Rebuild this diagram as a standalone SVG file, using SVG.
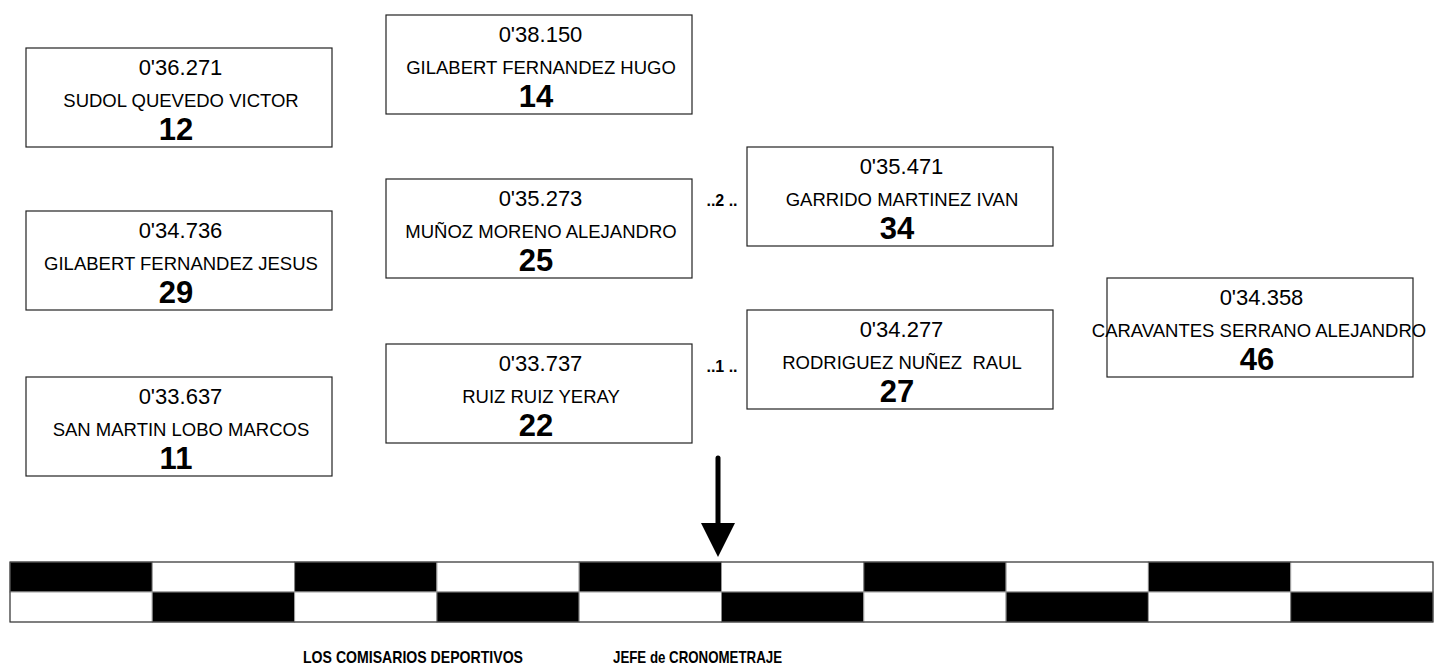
<svg xmlns="http://www.w3.org/2000/svg" width="1439" height="666" viewBox="0 0 1439 666">
<style>
.box{fill:#fff;stroke:#222;stroke-width:1.2}
.t{font-family:"Liberation Sans",Arial,sans-serif;text-anchor:middle;fill:#000;white-space:pre}
.time{font-size:22px}
.name{font-size:18.5px}
.num{font-size:31px;font-weight:bold}
.lbl{font-family:"Liberation Sans",Arial,sans-serif;font-size:16px;font-weight:bold;text-anchor:middle}
.foot{font-family:"Liberation Sans",Arial,sans-serif;font-size:17px;font-weight:bold}
.blk{fill:#000;stroke:#888;stroke-width:1}
.wht{fill:#fff;stroke:#999;stroke-width:1}
</style>
<rect width="1439" height="666" fill="#fff"/>
<defs>
<g id="card"><rect class="box" x="0" y="0" width="306" height="99"/></g>
</defs>
<g id="n12" transform="translate(26,48)"><use href="#card"/><text class="t time" x="154.5" y="27">0'36.271</text><text class="t name" x="155" y="59">SUDOL QUEVEDO VICTOR</text><text class="t num" x="150" y="92">12</text></g>
<g id="n29" transform="translate(26,211)"><use href="#card"/><text class="t time" x="154.5" y="27">0'34.736</text><text class="t name" x="155" y="59">GILABERT FERNANDEZ JESUS</text><text class="t num" x="150" y="92">29</text></g>
<g id="n11" transform="translate(26,377)"><use href="#card"/><text class="t time" x="154.5" y="27">0'33.637</text><text class="t name" x="155" y="59">SAN MARTIN LOBO MARCOS</text><text class="t num" x="150" y="92">11</text></g>
<g id="n14" transform="translate(386,15)"><use href="#card"/><text class="t time" x="154.5" y="27">0'38.150</text><text class="t name" x="155" y="59">GILABERT FERNANDEZ HUGO</text><text class="t num" x="150" y="92">14</text></g>
<g id="n25" transform="translate(386,179)"><use href="#card"/><text class="t time" x="154.5" y="27">0'35.273</text><text class="t name" x="155" y="59">MUÑOZ MORENO ALEJANDRO</text><text class="t num" x="150" y="92">25</text></g>
<g id="n22" transform="translate(386,344)"><use href="#card"/><text class="t time" x="154.5" y="27">0'33.737</text><text class="t name" x="155" y="59">RUIZ RUIZ YERAY</text><text class="t num" x="150" y="92">22</text></g>
<g id="n34" transform="translate(747,147)"><use href="#card"/><text class="t time" x="154.5" y="27">0'35.471</text><text class="t name" x="155" y="59">GARRIDO MARTINEZ IVAN</text><text class="t num" x="150" y="92">34</text></g>
<g id="n27" transform="translate(747,310)"><use href="#card"/><text class="t time" x="154.5" y="27">0'34.277</text><text class="t name" x="155" y="59">RODRIGUEZ NUÑEZ  RAUL</text><text class="t num" x="150" y="92">27</text></g>
<g id="n46" transform="translate(1107,278)"><use href="#card"/><text class="t time" x="154.5" y="27">0'34.358</text><text class="t name" x="152" y="59">CARAVANTES SERRANO ALEJANDRO</text><text class="t num" x="150" y="92">46</text></g>
<g id="labels">
<text class="lbl" x="722" y="206">..2 ..</text>
<text class="lbl" x="722" y="372">..1 ..</text>
</g>
<g id="connectors">
<line x1="718" y1="458" x2="718" y2="526" stroke="#000" stroke-width="5" stroke-linecap="round"/>
<polygon points="701,523 735,523 718,557" fill="#000"/>
</g>
<g id="finish-line">
<rect class="blk" x="10" y="562" width="142.3" height="30"/>
<rect class="wht" x="152.3" y="562" width="142.3" height="30"/>
<rect class="blk" x="294.6" y="562" width="142.3" height="30"/>
<rect class="wht" x="436.9" y="562" width="142.3" height="30"/>
<rect class="blk" x="579.2" y="562" width="142.3" height="30"/>
<rect class="wht" x="721.5" y="562" width="142.3" height="30"/>
<rect class="blk" x="863.8" y="562" width="142.3" height="30"/>
<rect class="wht" x="1006.1" y="562" width="142.3" height="30"/>
<rect class="blk" x="1148.4" y="562" width="142.3" height="30"/>
<rect class="wht" x="1290.7" y="562" width="142.3" height="30"/>
<rect class="wht" x="10" y="592" width="142.3" height="30"/>
<rect class="blk" x="152.3" y="592" width="142.3" height="30"/>
<rect class="wht" x="294.6" y="592" width="142.3" height="30"/>
<rect class="blk" x="436.9" y="592" width="142.3" height="30"/>
<rect class="wht" x="579.2" y="592" width="142.3" height="30"/>
<rect class="blk" x="721.5" y="592" width="142.3" height="30"/>
<rect class="wht" x="863.8" y="592" width="142.3" height="30"/>
<rect class="blk" x="1006.1" y="592" width="142.3" height="30"/>
<rect class="wht" x="1148.4" y="592" width="142.3" height="30"/>
<rect class="blk" x="1290.7" y="592" width="142.3" height="30"/>
<rect x="10" y="562" width="1423" height="60" fill="none" stroke="#333" stroke-width="1"/>
</g>
<g id="footer">
<text class="foot" x="303" y="663" textLength="220" lengthAdjust="spacingAndGlyphs">LOS COMISARIOS DEPORTIVOS</text>
<text class="foot" x="613" y="663" textLength="169" lengthAdjust="spacingAndGlyphs">JEFE de CRONOMETRAJE</text>
</g>
</svg>
